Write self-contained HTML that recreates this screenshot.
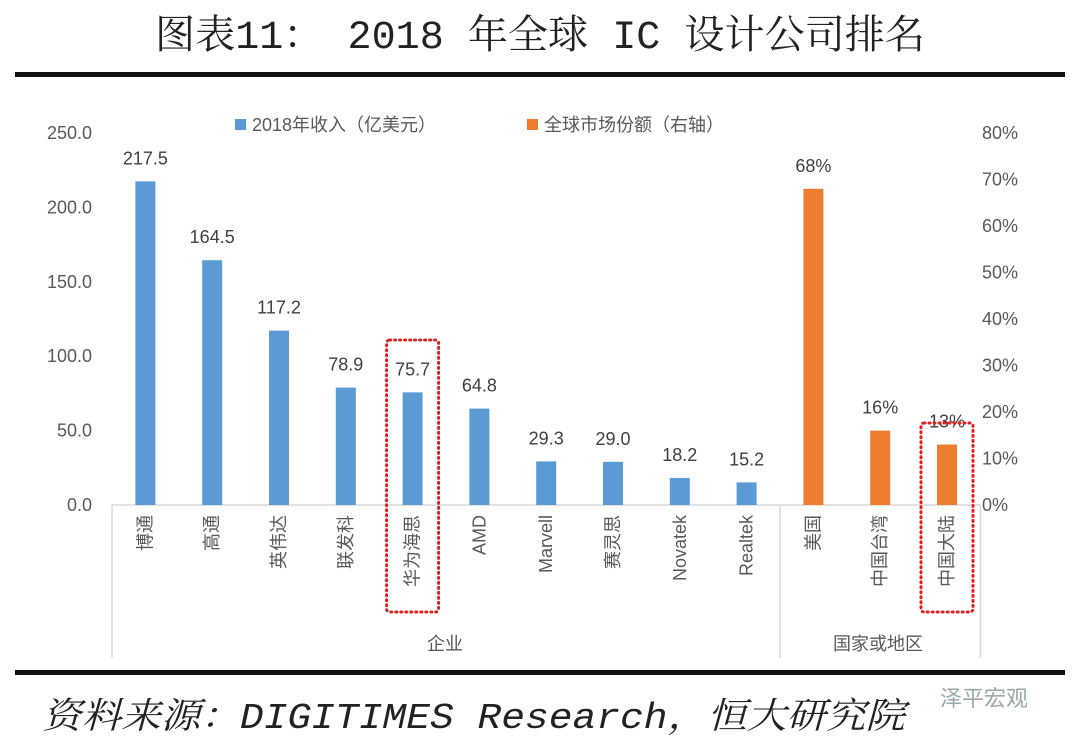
<!DOCTYPE html>
<html><head><meta charset="utf-8"><style>
body{margin:0;background:#fff;width:1080px;height:747px;overflow:hidden}
svg text{font-family:"Liberation Sans","Noto Sans CJK SC",sans-serif}
</style></head><body>
<svg id="c" width="1080" height="747" xmlns="http://www.w3.org/2000/svg">
<text x="155" y="48" textLength="770" lengthAdjust="spacingAndGlyphs" font-size="40" fill="#222" style="font-family:'Liberation Mono','Noto Serif CJK SC',serif">图表11： 2018 年全球 IC 设计公司排名</text>
<rect x="15" y="72" width="1050" height="5" fill="#111"/>
<rect x="15" y="670" width="1050" height="5" fill="#111"/>
<text x="42" y="728" textLength="863" lengthAdjust="spacingAndGlyphs" font-size="36" font-style="italic" fill="#222" style="font-family:'Liberation Mono','Noto Serif CJK SC',serif">资料来源：DIGITIMES Research，恒大研究院</text>
<text x="940" y="706" font-size="22" fill="#9aa">泽平宏观</text>
<rect x="235" y="119" width="11" height="11" fill="#5b9bd5"/>
<text x="252" y="131" font-size="18" fill="#595959">2018年收入（亿美元）</text>
<rect x="527" y="119" width="11" height="11" fill="#ed7d31"/>
<text x="544" y="131" font-size="18" fill="#595959">全球市场份额（右轴）</text>
<text x="445" y="650" text-anchor="middle" font-size="18" fill="#595959">企业</text>
<text x="878" y="650" text-anchor="middle" font-size="18" fill="#595959">国家或地区</text>
<g id="g"></g>
</svg>
<script>
const companies=["博通","高通","英伟达","联发科","华为海思","AMD","Marvell","赛灵思","Novatek","Realtek"];
const revenue=[217.5,164.5,117.2,78.9,75.7,64.8,29.3,29.0,18.2,15.2];
const regions=["美国","中国台湾","中国大陆"];
const share=[68,16,13];
const leftTicks=[0,50,100,150,200,250];
const rightTicks=[0,10,20,30,40,50,60,70,80];
const NS="http://www.w3.org/2000/svg",g=document.getElementById('g');
const x0=112,step=66.8,base=505,plotTop=133;
const yL=v=>base-(v/250)*(base-plotTop), yR=v=>base-(v/80)*(base-plotTop);
const cx=i=>x0+step*(i+0.5);
function mk(t,a,txt){const e=document.createElementNS(NS,t);for(const k in a)e.setAttribute(k,a[k]);if(txt!==undefined)e.textContent=txt;g.appendChild(e);return e;}
leftTicks.forEach(v=>{const e=mk('text',{x:92,y:yL(v)+6,'text-anchor':'end','font-size':18,fill:'#595959'},v.toFixed(1));

});
rightTicks.forEach(v=>{const e=mk('text',{x:982,y:yR(v)+6,'font-size':18,fill:'#595959'},v+'%');

});
const ax=mk('line',{x1:x0,x2:x0+step*13,y1:base,y2:base,stroke:'#d9d9d9','stroke-width':1.5});


[0,10,13].forEach(k=>{const l=mk('line',{x1:x0+step*k,x2:x0+step*k,y1:base,y2:658,stroke:'#d9d9d9','stroke-width':1.5});

});
function bar(i,y,color,label,cat){
 const r=mk('rect',{x:cx(i)-10,y:y,width:20,height:base-y,fill:color});
 
 
 const t=mk('text',{x:cx(i),y:y-17,'text-anchor':'middle','font-size':18,fill:'#404040'},label);
 
 
 const c=mk('text',{x:0,y:0,'text-anchor':'end','font-size':18,fill:'#595959',transform:`translate(${cx(i)+6},515) rotate(-90)`},cat);
 
 
}
companies.forEach((c,i)=>bar(i,yL(revenue[i]),'#5b9bd5',revenue[i].toFixed(1),c));
regions.forEach((c,i)=>bar(10+i,yR(share[i]),'#ed7d31',share[i]+'%',c));
function box(i,y1){const r=mk('rect',{x:cx(i)-26,y:y1,width:52,height:612-y1,rx:3,fill:'none',stroke:'#e02020','stroke-width':3,'stroke-dasharray':'1 4','stroke-linecap':'round'});
 
 }
box(4,340);box(12,423);
</script>
</body></html>
